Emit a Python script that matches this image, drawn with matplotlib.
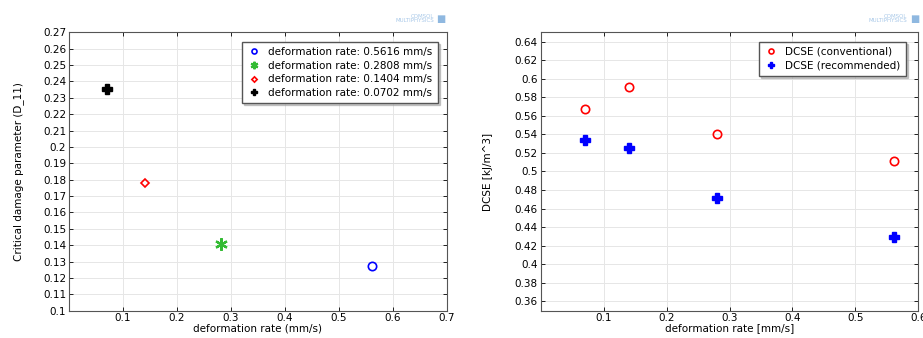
import matplotlib
matplotlib.use('Agg')
import numpy as np
from matplotlib import pyplot as plt

# left panel data
rates = [0.5616, 0.2808, 0.1404, 0.0702]
d11 = [0.1275, 0.1405, 0.178, 0.2355]
left_markers = ['o', (6, 2, 0), 'D', 'P']
left_colors = ['#0000ff', '#33bb33', '#ff0000', '#000000']
left_labels = ['deformation rate: 0.5616 mm/s', 'deformation rate: 0.2808 mm/s',
               'deformation rate: 0.1404 mm/s', 'deformation rate: 0.0702 mm/s']

# right panel data
rate_r = [0.0702, 0.1404, 0.2808, 0.5616]
dcse_conv = [0.567, 0.591, 0.540, 0.511]
dcse_rec = [0.534, 0.525, 0.471, 0.429]

plt.rcParams['font.family'] = 'DejaVu Sans'
plt.rcParams['font.size'] = 7.5

fig = plt.figure(figsize=(9.23, 3.38), dpi=100)
ax1 = fig.add_axes([0.0748, 0.081, 0.4092, 0.8235])
ax2 = fig.add_axes([0.5858, 0.081, 0.4092, 0.8235])

shadow = {'color': '#999999', 'alpha': 0.5, 'ox': 1.5, 'oy': -1.5}


def style(ax):
    ax.grid(True, color='#e6e6e6', linewidth=0.7)
    ax.set_axisbelow(True)
    ax.tick_params(direction='in', top=True, right=True, length=3,
                   width=0.6, colors='black', labelsize=7.5, pad=2)
    for s in ax.spines.values():
        s.set_linewidth(0.8)
        s.set_color('#555555')


# left
sizes = [6, 9, 4.5, 6.5]
fills = ['none', None, 'none', None]
widths = [1.2, 1.6, 1.2, 1.0]
for x, y, m, c, l, ms, f, w in zip(rates, d11, left_markers, left_colors, left_labels, sizes, fills, widths):
    kw = dict(markerfacecolor='none') if f == 'none' else {}
    ax1.plot([x], [y], linestyle='none', marker=m, color=c, markersize=ms,
             markeredgewidth=w, label=l, **kw)
ax1.set_xlim(0, 0.7)
ax1.set_ylim(0.1, 0.27)
ax1.set_xticks(np.arange(0.1, 0.71, 0.1))
ax1.set_xticklabels(['0.1', '0.2', '0.3', '0.4', '0.5', '0.6', '0.7'])
yt = np.round(np.arange(0.10, 0.2701, 0.01), 2)
ax1.set_yticks(yt)
ax1.set_yticklabels([('%g' % v) for v in yt])
ax1.set_xlabel('deformation rate (mm/s)', labelpad=0)
ax1.set_ylabel('Critical damage parameter (D_11)', labelpad=14)
style(ax1)
ax1.legend(loc='upper right', fontsize=7.5, markerscale=0.6, handlelength=1.2,
           borderpad=0.5, labelspacing=0.35, fancybox=False, shadow=shadow,
           edgecolor='#555555', framealpha=1, bbox_to_anchor=(0.99, 0.985))

# right
ax2.plot(rate_r, dcse_conv, linestyle='none', marker='o', markersize=6,
         markerfacecolor='none', markeredgecolor='#ff0000', markeredgewidth=1.2,
         label='DCSE (conventional)')
ax2.plot(rate_r, dcse_rec, linestyle='none', marker='P', markersize=6.5,
         markeredgewidth=1.0, color='#0000ff', label='DCSE (recommended)')
ax2.set_xlim(0, 0.6)
ax2.set_ylim(0.35, 0.65)
ax2.set_xticks([0.1, 0.2, 0.3, 0.4, 0.5, 0.6])
ax2.set_xticklabels(['0.1', '0.2', '0.3', '0.4', '0.5', '0.6'])
yt2 = np.round(np.arange(0.36, 0.6401, 0.02), 2)
ax2.set_yticks(yt2)
ax2.set_yticklabels([('%g' % v) for v in yt2])
ax2.set_xlabel('deformation rate [mm/s]', labelpad=0)
ax2.set_ylabel('DCSE [kJ/m^3]', labelpad=16)
style(ax2)
ax2.legend(loc='upper right', fontsize=7.5, markerscale=0.6, handlelength=1.2,
           borderpad=0.5, labelspacing=0.35, fancybox=False, shadow=shadow,
           edgecolor='#555555', framealpha=1, bbox_to_anchor=(0.98, 0.985))

# COMSOL watermark
for x in (0.470, 0.983):
    fig.text(x, 0.945, 'COMSOL\nMULTIPHYSICS', ha='right', va='center',
             fontsize=4, color='#a8c8e8', linespacing=0.9)
    fig.text(x + 0.003, 0.945, '\u25a0', ha='left', va='center',
             fontsize=7, color='#8fb8e0')

fig.savefig('out.png', dpi=100)
